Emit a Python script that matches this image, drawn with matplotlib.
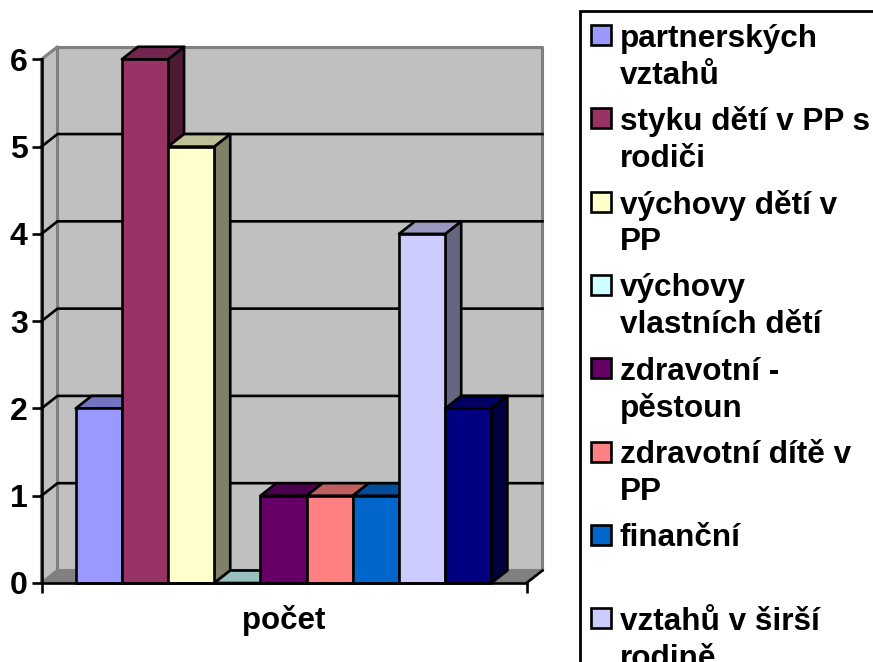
import matplotlib
matplotlib.use('Agg')
import matplotlib.pyplot as plt
from matplotlib.colors import to_rgb
from matplotlib.patches import Polygon, Rectangle

plt.rcParams['font.family'] = ['Liberation Sans', 'DejaVu Sans']
plt.rcParams['font.weight'] = 'bold'

# series, in chart order
labels = ['partnerských\nvztahů', 'styku dětí v PP s\nrodiči', 'výchovy dětí v\nPP',
          'výchovy\nvlastních dětí', 'zdravotní -\npěstoun', 'zdravotní dítě v\nPP',
          'finanční\n ', 'vztahů v širší\nrodině']
values = [2, 6, 5, 0, 1, 1, 1, 4, 2]
colors = ['#9999FF', '#993366', '#FFFFCC', '#CCFFFF', '#660066', '#FF8080',
          '#0066CC', '#CCCCFF', '#000080']
y_ticks = [0, 1, 2, 3, 4, 5, 6]

W, H = 873, 662
DX, DY = 16 / 46.2, 12.5 / 87.17  # depth of the 3d box in data units
X0, X1 = -0.74, 9.76
LW = 1.9


def shade(color, k):
    return tuple(c * k for c in to_rgb(color))


def poly(ax, pts, fc, ec='black', lw=LW, z=2):
    ax.add_patch(Polygon(pts, closed=True, fc=fc, ec=ec, lw=lw, zorder=z, clip_on=False, joinstyle='round'))


fig = plt.figure(figsize=(W / 100, H / 100), dpi=100)
ax = fig.add_axes([41.5 / W, 1 - 583 / H, 485 / W, 523.7 / H])
ax.set_xlim(X0, X1)
ax.set_ylim(0, 6)

# walls and floor
top = y_ticks[-1]
poly(ax, [(X0 + DX, DY), (X1 + DX, DY), (X1 + DX, top + DY), (X0 + DX, top + DY)], '#C0C0C0', '#808080', 2.2, 1)
poly(ax, [(X0, 0), (X0 + DX, DY), (X0 + DX, top + DY), (X0, top)], '#C0C0C0', '#808080', 2.2, 1)
poly(ax, [(X0, 0), (X1, 0), (X1 + DX, DY), (X0 + DX, DY)], '#808080', '#808080', 1, 1)
for t in y_ticks[1:-1]:
    ax.plot([X0, X0 + DX, X1 + DX], [t, t + DY, t + DY], color='black', lw=LW, zorder=1.5, clip_on=False)
ax.plot([X1, X1 + DX], [0, DY], color='black', lw=LW, zorder=1.5, clip_on=False)

# bars, painted left to right so later ones cover the sides
for i, (v, c) in enumerate(zip(values, colors)):
    z = 3 + i
    poly(ax, [(i + 1, 0), (i + 1 + DX, DY), (i + 1 + DX, v + DY), (i + 1, v)], shade(c, 0.5), z=z)
    poly(ax, [(i, v), (i + 1, v), (i + 1 + DX, v + DY), (i + DX, v + DY)], shade(c, 0.75), z=z)
    ax.bar(i, v, width=1, align='edge', color=c, edgecolor='black', lw=LW, zorder=z, clip_on=False)

for s in ['top', 'right']:
    ax.spines[s].set_visible(False)
for s in ['left', 'bottom']:
    ax.spines[s].set_linewidth(LW)
    ax.spines[s].set_zorder(20)
ax.patch.set_visible(False)
ax.set_yticks(y_ticks)
ax.tick_params(axis='y', labelsize=23, length=7, width=LW, pad=3)
ax.set_xticks([X0, X1])
ax.set_xticklabels([])
ax.tick_params(axis='x', length=7, width=LW)
ax.set_xlabel('počet', fontsize=22.5, fontweight='bold', labelpad=5)

# legend box runs past the right and bottom edges of the picture
lg = fig.add_axes([0, 0, 1, 1], zorder=5)
lg.set_xlim(0, W)
lg.set_ylim(H, 0)
lg.axis('off')
lg.add_patch(Rectangle((580, 11), 400, 700, fc='white', ec='black', lw=2))
for i, (lab, c) in enumerate(zip(labels, colors)):
    yc = 36 + 83.3 * i
    lg.add_patch(Rectangle((591, yc - 11), 20, 20, fc=c, ec='black', lw=LW))
    for j, line in enumerate(lab.split('\n')):
        lg.text(620, yc + 2.5 + 37 * j, line, fontsize=22.7, fontweight='bold', va='center', ha='left')

fig.savefig('out.png', dpi=100)
